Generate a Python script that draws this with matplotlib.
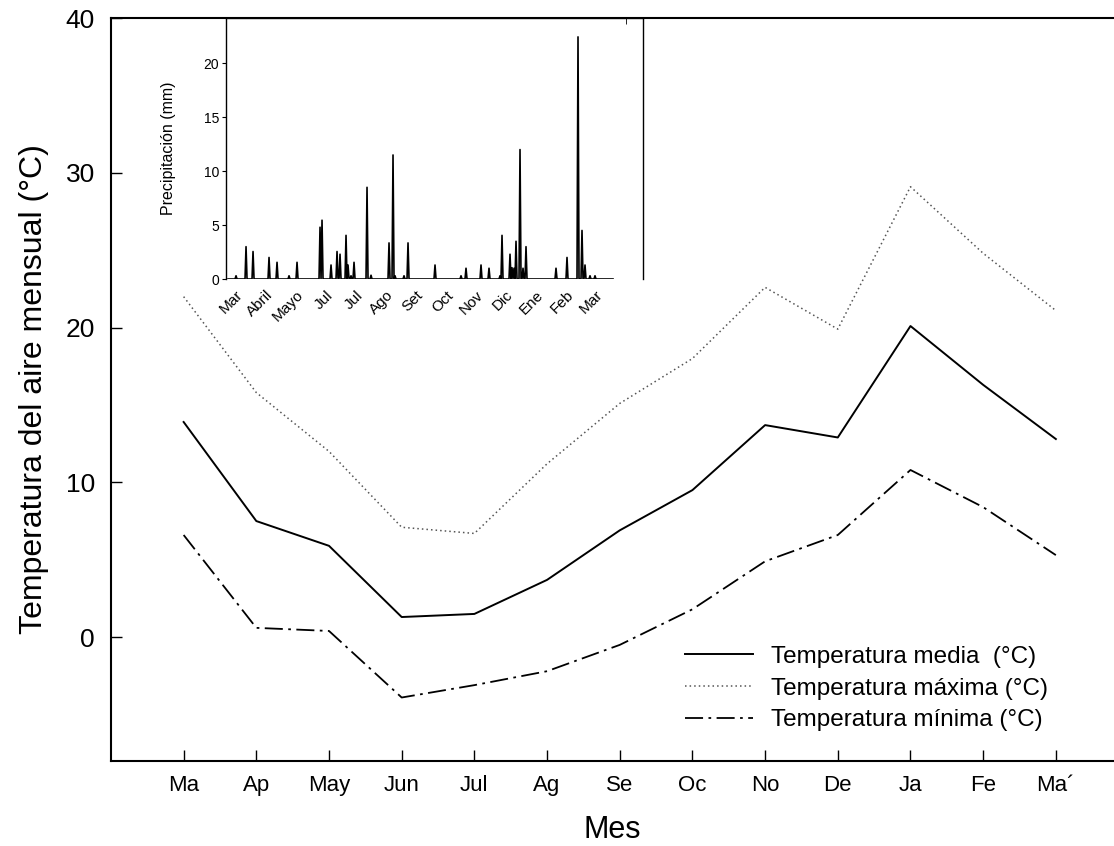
import numpy as np
import matplotlib.pyplot as plt

plt.rcParams['font.family'] = ['Liberation Sans', 'DejaVu Sans']

# Monthly air temperature (°C)
meses = ['Ma', 'Ap', 'May', 'Jun', 'Jul', 'Ag', 'Se', 'Oc', 'No', 'De', 'Ja', 'Fe', 'Ma´']
t_media = [13.9, 7.5, 5.9, 1.3, 1.5, 3.7, 6.9, 9.5, 13.7, 12.9, 20.1, 16.3, 12.8]
t_max = [22.0, 15.8, 12.0, 7.1, 6.7, 11.2, 15.1, 18.0, 22.6, 19.9, 29.1, 24.8, 21.1]
t_min = [6.6, 0.6, 0.4, -3.9, -3.1, -2.2, -0.5, 1.8, 4.9, 6.6, 10.8, 8.4, 5.3]

# Daily precipitation (mm), rainy days only; day 0 = start of March
lluvia_dia = [0, 10, 17, 33, 41, 53, 61, 84, 86, 95, 101, 104, 110, 112, 115, 118,
              131, 135, 153, 157, 159, 168, 172, 199, 225, 230, 245, 253, 264, 266,
              274, 276, 278, 280, 284, 287, 290, 320, 331, 342, 346, 349, 354, 359]
lluvia_mm = [0.3, 3.0, 2.55, 2.0, 1.55, 0.3, 1.55, 4.8, 5.45, 1.3, 2.55, 2.3, 4.05, 1.3,
             0.3, 1.55, 8.5, 0.35, 3.35, 11.5, 0.3, 0.3, 3.35, 1.3, 0.3, 1.0, 1.3, 1.0,
             0.3, 4.05, 2.3, 1.05, 1.0, 3.5, 12.0, 1.0, 3.0, 1.0, 2.0, 22.45, 4.5, 1.3,
             0.3, 0.3]
meses_inset = ['Mar', 'Abril', 'Mayo', 'Jul', 'Jul', 'Ago', 'Set', 'Oct', 'Nov',
               'Dic', 'Ene', 'Feb', 'Mar']

dias = np.arange(-8, 378)
precip = np.zeros(len(dias))
for d, mm in zip(lluvia_dia, lluvia_mm):
    precip[dias == d] = mm

fig = plt.figure(figsize=(11.14, 8.46), dpi=100)
ax = fig.add_axes([0.0996, 0.1005, 0.9004, 0.8782])

x = np.arange(1, len(meses) + 1)
l1, = ax.plot(x, t_media, color='black', lw=1.4, label='Temperatura media  (°C)')
l2, = ax.plot(x, t_max, color='#555555', lw=1.1, linestyle=(0, (1, 2)),
              label='Temperatura máxima (°C)')
l3, = ax.plot(x, t_min, color='black', lw=1.3, linestyle=(0, (10, 3, 1.5, 3)),
              label='Temperatura mínima (°C)')

ax.set_xlim(0, 13.8)
ax.set_ylim(-8, 40)
ax.set_xticks(x)
ax.set_xticklabels(meses)
ax.set_yticks([0, 10, 20, 30, 40])
ax.spines['right'].set_visible(False)
for s in ['left', 'bottom', 'top']:
    ax.spines[s].set_linewidth(1.5)
ax.tick_params(axis='x', direction='in', length=8, width=1, labelsize=16, pad=10)
ax.tick_params(axis='y', direction='in', length=8, width=1, labelsize=19, pad=11.5)
ax.set_xlabel('Mes', fontsize=22, labelpad=14)
ax.set_ylabel('Temperatura del aire mensual (°C)', fontsize=23, labelpad=12)

ax.legend(handles=[l1, l2, l3], loc='upper left', bbox_to_anchor=(0.572, 0.155),
          frameon=False, fontsize=17.5, handlelength=2.8, handletextpad=0.74,
          labelspacing=0.4, borderpad=0, borderaxespad=0)

# Inset: daily precipitation
ins = fig.add_axes([0.2029, 0.6702, 0.3743, 0.3085])
ins.plot(dias, precip, color='black', lw=1.2)
ins.set_xlim(-10, 407)
ins.set_ylim(0, 24.2)
ins.set_yticks([0, 5, 10, 15, 20])
ins.spines['bottom'].set_visible(False)
for s in ['left', 'right', 'top']:
    ins.spines[s].set_linewidth(1.0)
ins.set_xticks(np.arange(0, 361, 30))
ins.set_xticklabels(meses_inset, rotation=45, ha='right', rotation_mode='anchor')
ins.tick_params(axis='x', bottom=False, top=False, labelsize=11, pad=3)
ins.tick_params(axis='y', direction='out', length=3, labelsize=10, pad=2)
ins.set_xticks(np.arange(0, 391, 30), minor=True)
ins.tick_params(axis='x', which='minor', top=True, bottom=False, direction='in', length=4)
ins.set_ylabel('Precipitación (mm)', fontsize=11.5, labelpad=20)

fig.savefig('out.png', dpi=100)
